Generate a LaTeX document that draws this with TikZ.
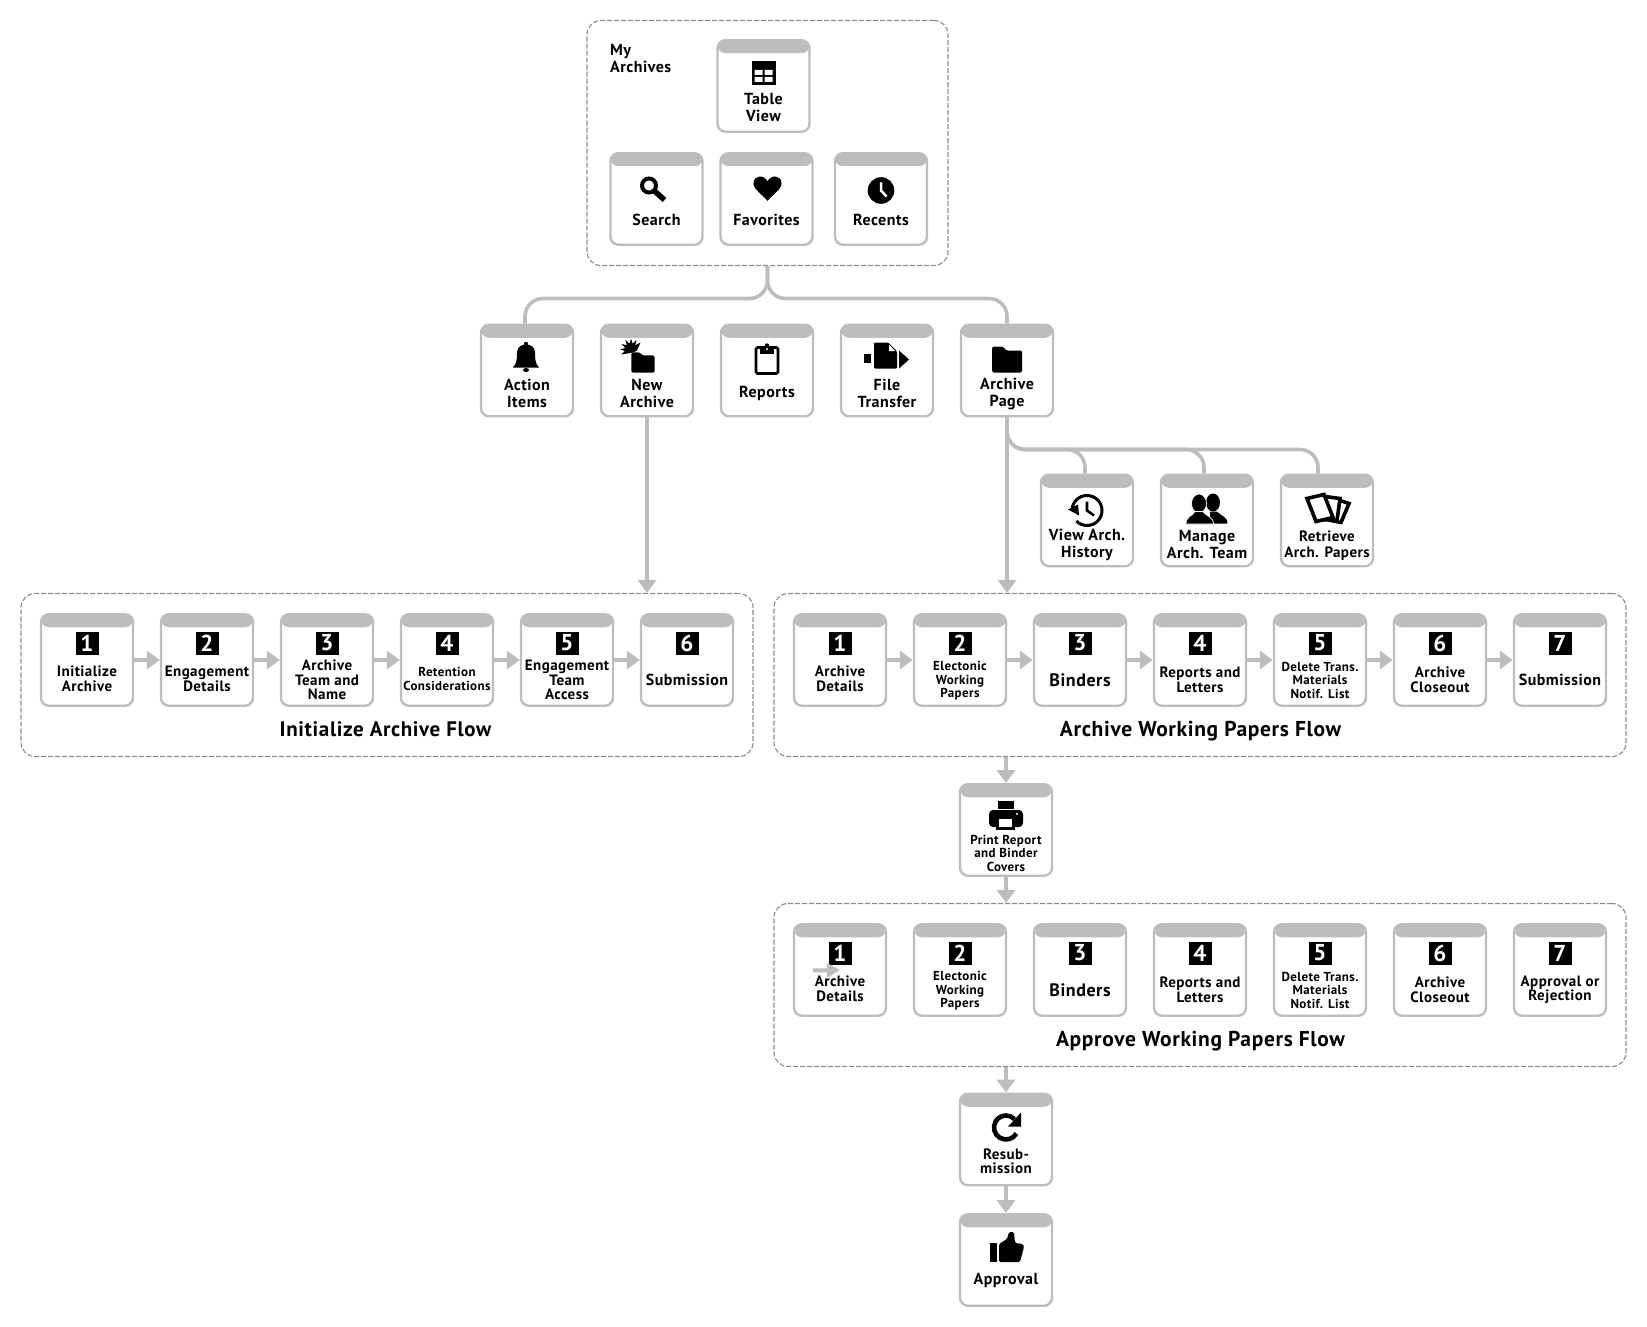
\documentclass[tikz,border=0pt]{standalone}
\usepackage{fontspec}
\setmainfont{PT Sans}[LetterSpace=3]
\usetikzlibrary{arrows.meta,calc}

\definecolor{cardgray}{HTML}{BDBDBD}
\definecolor{dashgray}{HTML}{8C8C8C}

\tikzset{
    card/.style={rectangle,draw=cardgray,line width=2.4pt,rounded corners=8pt,fill=white,
        minimum width=92pt,minimum height=91.5pt,inner sep=0pt,
        path picture={\fill[cardgray] (path picture bounding box.north west) rectangle ([yshift=-13pt]path picture bounding box.north east);}},
    group/.style={rectangle,draw=dashgray,line width=1.1pt,dash pattern=on 5pt off 2pt,rounded corners=14pt,inner sep=0pt},
    badge/.style={rectangle,fill=black,text=white,minimum size=23pt,inner sep=0pt,font=\fontsize{23}{23}\selectfont\bfseries},
    textL/.style={align=center,inner sep=0pt,font=\fontsize{18}{17}\selectfont\bfseries},
    textM/.style={align=center,inner sep=0pt,font=\fontsize{16}{17}\selectfont\bfseries},
    textN/.style={align=center,inner sep=0pt,font=\fontsize{15}{14.5}\selectfont\bfseries},
    textS/.style={align=center,inner sep=0pt,font=\fontsize{13}{13.5}\selectfont\bfseries},
    grouptitle/.style={inner sep=0pt,font=\fontsize{21}{21}\selectfont\bfseries},
    flowarrow/.style={draw=cardgray,line width=4pt,-{Triangle[length=13pt,width=18pt]}},
    thinarrow/.style={draw=cardgray,line width=4pt,-{Triangle[length=13pt,width=14pt]}},
    branch/.style={draw=cardgray,line width=3.6pt,rounded corners=18pt},
}

% icons are drawn around (0,0), y runs downward
\newcommand{\iconat}[3]{\begin{scope}[shift={($(#1)+(#2)$)}]#3\end{scope}}
\newcommand{\icontable}{
    \fill (-12,-12) rectangle (12,12);
    \fill[white] (-9,-3) rectangle (-1,2) (1,-3) rectangle (9,2) (-9,4) rectangle (-1,9) (1,4) rectangle (9,9);
}
\newcommand{\iconsearch}{
    \draw[line width=4pt] (-3.5,-3.5) circle (7);
    \draw[line width=5.5pt] (2,2) -- (12,11);
}
\newcommand{\iconheart}{
    \fill (0,12.5) .. controls (-5,6) and (-14,1) .. (-14,-5) .. controls (-14,-14) and (-3,-14) .. (0,-7)
        .. controls (3,-14) and (14,-14) .. (14,-5) .. controls (14,1) and (5,6) .. (0,12.5) -- cycle;
}
\newcommand{\iconclock}{
    \fill (0,0) circle (13.3);
    \draw[white,line width=2.5pt] (0,-8) -- (0,0) -- (5.5,6);
}
\newcommand{\iconbell}{
    \fill (0,-13.5) circle (2.2);
    \fill (-13,10) .. controls (-9,6) and (-9,0) .. (-9,-5) .. controls (-9,-11) and (-4,-13) .. (0,-13)
        .. controls (4,-13) and (9,-11) .. (9,-5) .. controls (9,0) and (9,6) .. (13,10) -- cycle;
    \fill (0,12.5) ellipse (3 and 2);
}
\newcommand{\iconfolder}{
    \fill[rounded corners=1.5pt] (-15,-13) -- (-4,-13) -- (-1,-9) -- (15,-9) -- (15,13) -- (-15,13) -- cycle;
}
\newcommand{\iconburst}{
    \fill (2,3) -- (-10,5) -- (-6,1.5) -- (-11,0) -- (-5.8,-1.5) -- (-9.5,-5.5) -- (-4.2,-4.2) -- (-5.5,-9.5) -- (-1.5,-5.8)
        -- (0,-11) -- (1.5,-5.8) -- (5.5,-9.5) -- (4.2,-4.2) -- (9.5,-7) -- (6,1) -- cycle;
}
\newcommand{\iconclip}{
    \draw[line width=2.6pt,rounded corners=1.5pt] (-11,-12) rectangle (11,14);
    \fill (-7,-13) rectangle (7,-6);
    \fill (0,-14) circle (2.2);
    \fill[white] (0,-10.5) circle (1.2);
}
\newcommand{\icontransfer}{
    \fill (-23,-17) rectangle (-16,-8);
    \fill[rounded corners=1pt] (-13,-28) -- (1,-28) -- (10,-19) -- (10,-2) -- (-13,-2) -- cycle;
    \fill[white] (2,-26) -- (8,-19.5) -- (2,-19.5) -- cycle;
    \fill (12,-20) -- (22,-11) -- (12,-2) -- cycle;
}
\newcommand{\iconhistory}{
    \draw[line width=3pt] (-15,0) arc[start angle=180,end angle=495,radius=15];
    \fill (-19,-1) -- (-9,-6) -- (-8,5) -- cycle;
    \draw[line width=2.6pt] (0,-9) -- (0,0) -- (7,5);
}
\newcommand{\iconteam}{
    \fill (6,-18) ellipse (7 and 9);
    \fill (0,3) -- (3,-4) -- (3,-9) -- (10,-9) .. controls (13,-5) and (20.5,-4) .. (20.5,3) -- cycle;
    \filldraw[draw=white,line width=.7pt] (-8,-17) ellipse (7.5 and 9.5);
    \filldraw[draw=white,line width=.7pt] (-21,3.5) .. controls (-21,-4) and (-15,-4) .. (-12,-9) -- (-4,-9)
        .. controls (-1,-4) and (6.5,-4) .. (6.5,3.5) -- cycle;
}
\newcommand{\iconpapers}{
    \filldraw[fill=white,line width=3.6pt] (10,-21) -- (22,-17) -- (14,2) -- (4,0) -- cycle;
    \filldraw[fill=white,line width=3.6pt] (-2,-24) -- (13,-22) -- (10,0) -- (-6,-1) -- cycle;
    \filldraw[fill=white,line width=3.6pt] (-20,-22) -- (-3,-26) -- (6,-3) -- (-11,1) -- cycle;
}
\newcommand{\iconprinter}{
    \fill (-8,-15) rectangle (8,-7);
    \fill[rounded corners=4pt] (-17,-6) rectangle (17,11);
    \fill (-10,3) rectangle (9,14);
    \fill[white] (-7,3) rectangle (6,11);
    \fill[white] (11,-2) circle (1.2);
}
\newcommand{\iconreload}{
    \draw[line width=4.6pt] (10.4,6) arc[start angle=30,end angle=315,radius=12];
    \fill (15,-15) -- (15,-1) -- (2,-1) -- cycle;
}
\newcommand{\iconthumb}{
    \fill (-16,-17) rectangle (-9,2);
    \fill[rounded corners=1.5pt] (-7,-16) -- (1,-21) -- (3,-28) -- (8,-28) -- (9,-17) -- (17,-16) -- (18,-13) -- (14,2) -- (-7,2) -- cycle;
}

\begin{document}
\begin{tikzpicture}[x=1pt,y=-1pt]
    \useasboundingbox (0,-0.5) rectangle (1647,1326.5);

    % dashed groups
    \node[group,minimum width=361pt,minimum height=245pt] (myarchives) at (767.5,142.5) {};
    \node[group,minimum width=732pt,minimum height=163pt] (initflow) at (387,674.5) {};
    \node[group,minimum width=852pt,minimum height=163pt] (workflow) at (1200,674.5) {};
    \node[group,minimum width=852pt,minimum height=163pt] (approveflow) at (1200,984.5) {};
    \node[textM,anchor=north west,align=left] (mylabel) at (610,44) {My\\Archives};
    \node[grouptitle] (inittitle) at (385.5,729) {Initialize Archive Flow};
    \node[grouptitle,font=\fontsize{21.5}{21}\selectfont\bfseries] (worktitle) at (1200.5,731) {Archive Working Papers Flow};
    \node[grouptitle,font=\fontsize{21.5}{21}\selectfont\bfseries] (approvetitle) at (1200.5,1041) {Approve Working Papers Flow};

    % plain cards
    \foreach \id/\xx/\yy/\dy/\sz/\txt in {
        tableview/763.5/85.5/22/textM/{Table\\View},
        search/656.5/198.5/21/textM/{Search},
        favorites/766.5/198.5/21/textM/{Favorites},
        recents/881/198.5/21/textM/{Recents},
        action/527/370/23/textM/{Action\\Items},
        newarch/647/370/23/textM/{New\\Archive},
        reports/767/370/23/textM/{Reports},
        transfer/887/370/23/textM/{File\\Transfer},
        archpage/1007/370/24/textM/{Archive\\Page},
        history/1087/520/24/textM/{View Arch.\\History},
        team/1207/520/24/textM/{Manage\\Arch. Team},
        papers/1327/520/25/textN/{Retrieve\\[2pt]Arch. Papers},
        printcov/1006/829.5/23/textS/{Print Report\\and Binder\\Covers},
        resub/1006/1139/22/textN/{Resub-\\mission},
        approval/1006/1259.5/20/textM/{Approval}} {
        \node[card] (\id) at (\xx,\yy) {};
        \node[\sz] (\id-text) at ([yshift=-\dy pt]\id.center) {\txt};
    }

    % numbered cards
    \foreach \id/\xx/\yy/\dy/\num/\sz/\txt in {
        initA/87/659.5/19/1/textN/{Initialize\\Archive},
        initB/207/659.5/19/2/textN/{Engagement\\Details},
        initC/327/659.5/20/3/textN/{Archive\\Team and\\Name},
        initD/447/659.5/19/4/textS/{Retention\\Considerations},
        initE/567/659.5/20/5/textN/{Engagement\\Team\\Access},
        initF/687/659.5/20/6/textM/{Submission},
        workA/840/659.5/19/1/textN/{Archive\\Details},
        workB/960/659.5/21/2/textS/{Electonic\\Working\\Papers},
        workC/1080/659.5/20/3/textL/{Binders},
        workD/1200/659.5/20/4/textN/{Reports and\\Letters},
        workE/1320/659.5/20/5/textS/{Delete Trans.\\Materials\\Notif. List},
        workF/1440/659.5/20/6/textN/{Archive\\Closeout},
        workG/1560/659.5/20/7/textM/{Submission},
        apprA/840/969.5/19/1/textN/{Archive\\Details},
        apprB/960/969.5/21/2/textS/{Electonic\\Working\\Papers},
        apprC/1080/969.5/20/3/textL/{Binders},
        apprD/1200/969.5/20/4/textN/{Reports and\\Letters},
        apprE/1320/969.5/20/5/textS/{Delete Trans.\\Materials\\Notif. List},
        apprF/1440/969.5/20/6/textN/{Archive\\Closeout},
        apprG/1560/969.5/20/7/textN/{Approval or\\Rejection}} {
        \node[card] (\id) at (\xx,\yy) {};
        \node[badge] (\id-num) at ([yshift=17pt]\id.center) {\num};
        \node[\sz] (\id-text) at ([yshift=-\dy pt]\id.center) {\txt};
    }

    % icons
    \iconat{tableview}{0,-13}{\icontable}
    \iconat{search}{-4,-10}{\iconsearch}
    \iconat{favorites}{1,-10.5}{\iconheart}
    \iconat{recents}{0,-8.5}{\iconclock}
    \iconat{action}{-1,-13}{\iconbell}
    \iconat{newarch}{-16,-21}{\iconburst}
    \begin{scope}[shift={($(newarch)+(-4,-8)$)},scale=0.78]
        \iconfolder
    \end{scope}
    \iconat{reports}{0,-11}{\iconclip}
    \iconat{transfer}{0,0}{\icontransfer}
    \iconat{archpage}{0,-11}{\iconfolder}
    \iconat{history}{0,-10}{\iconhistory}
    \iconat{team}{0,0}{\iconteam}
    \iconat{papers}{0,0}{\iconpapers}
    \iconat{printcov}{0,-14}{\iconprinter}
    \iconat{resub}{0,-12}{\iconreload}
    \iconat{approval}{0,0}{\iconthumb}

    % branches
    \coordinate (topbus) at (767.5,298);
    \coordinate (subbus) at (1007,449);
    \draw[branch] (myarchives.south) -- (topbus) -| ([xshift=-2pt]action.north);
    \draw[branch] (myarchives.south) -- (topbus) -| (archpage.north);
    \draw[branch] (archpage.south) -- (subbus) -| ([xshift=-2pt]history.north);
    \draw[branch] (archpage.south) -- (subbus) -| ([xshift=-3pt]team.north);
    \draw[branch] (archpage.south) -- (subbus) -| ([xshift=-9pt]papers.north);

    % arrows
    \draw[flowarrow] (newarch.south) -- (newarch.south |- initflow.north);
    \draw[flowarrow] (archpage.south) -- (archpage.south |- workflow.north);
    \foreach \a/\b in {initA/initB,initB/initC,initC/initD,initD/initE,initE/initF,
        workA/workB,workB/workC,workC/workD,workD/workE,workE/workF,workF/workG}
        \draw[flowarrow] (\a.east) -- (\b.west);
    \draw[flowarrow] (printcov.north |- workflow.south) -- (printcov.north);
    \draw[flowarrow] (printcov.south) -- (printcov.south |- approveflow.north);
    \draw[flowarrow] (resub.north |- approveflow.south) -- (resub.north);
    \draw[flowarrow] (resub.south) -- (approval.north);
    \coordinate (strayarrow) at (813,970);
    \draw[thinarrow] (strayarrow) -- (apprA.center);
\end{tikzpicture}
\end{document}
